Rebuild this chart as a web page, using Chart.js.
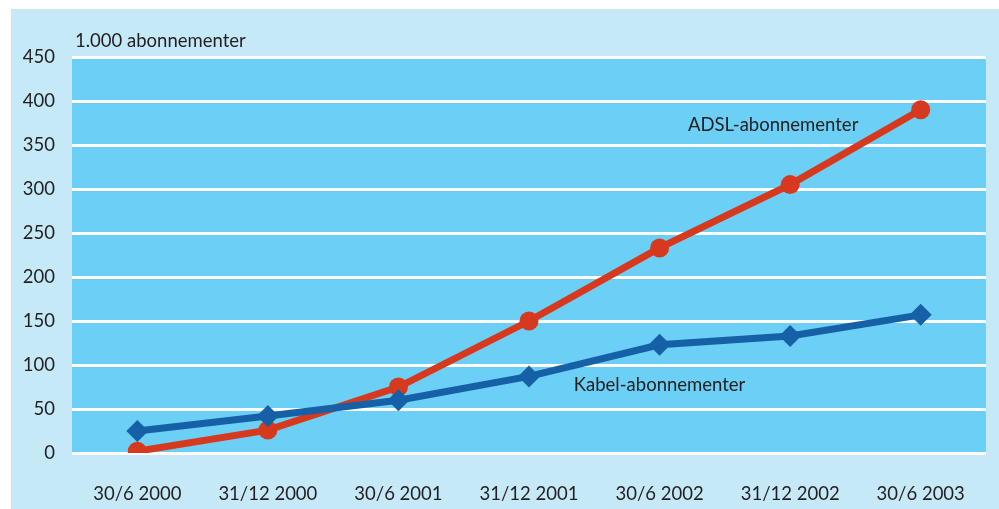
<!DOCTYPE html>
<html>
<head>
<meta charset="utf-8">
<script src="https://cdn.jsdelivr.net/npm/chart.js@4/dist/chart.umd.min.js"></script>
<style>
html,body{margin:0;padding:0;background:#fff}
#wrap{width:999px;height:509px}
</style>
</head>
<body>
<div id="wrap"><canvas id="c"></canvas></div>
<script>
// DATA

const dates=["30/6 2000","31/12 2000","30/6 2001","31/12 2001","30/6 2002","31/12 2002","30/6 2003"]

const adsl=[2,26,75,150,233,305,390]
const kabel=[25,42,60,87,123,133,157]

const yTicks=[0,50,100,150,200,250,300,350,400,450]

const unitLabel="1.000 abonnementer"
const adslLabel="ADSL-abonnementer"
const kabelLabel="Kabel-abonnementer"

const FONT="Lato"
const TXT="#231f20"


// BACKGROUND + TEXTS

const deco={

id:"deco",

beforeDraw(chart){

const {ctx,chartArea:a}=chart

ctx.save()
ctx.fillStyle="#c6e9f8"
ctx.fillRect(11,9,chart.width-11,chart.height-9)
ctx.fillStyle="#6ccff5"
ctx.fillRect(a.left,a.top,a.right-a.left,a.bottom-a.top)
ctx.restore()

},

afterDraw(chart){

const {ctx,chartArea:a,scales}=chart
const x=scales.x,y=scales.y

ctx.save()
ctx.fillStyle=TXT
ctx.font="18.5px "+FONT
ctx.textBaseline="middle"

ctx.textAlign="left"
ctx.fillText(unitLabel,a.left+3,a.top-16)

ctx.textAlign="center"
ctx.fillText(adslLabel,x.getPixelForValue(4.87),y.getPixelForValue(373))
ctx.fillText(kabelLabel,x.getPixelForValue(4.0),y.getPixelForValue(77))

ctx.restore()

}

}


// CHART

new Chart(document.getElementById("c"),{

type:"line",

data:{
labels:dates,
datasets:[
{
label:"Kabel",
data:kabel,
borderColor:"#1560a6",
backgroundColor:"#1560a6",
borderWidth:7,
pointStyle:"rectRot",
pointRadius:11,
pointHoverRadius:11,
pointBorderWidth:0
},
{
label:"ADSL",
data:adsl,
borderColor:"#d7391e",
backgroundColor:"#d7391e",
borderWidth:7,
pointStyle:"circle",
pointRadius:9.5,
pointHoverRadius:9.5,
pointBorderWidth:0
}
]
},

options:{
responsive:true,
maintainAspectRatio:false,
animation:false,
layout:{padding:{top:57,right:13,left:0,bottom:0}},
plugins:{legend:{display:false},tooltip:{enabled:false}},
scales:{
x:{
offset:true,
grid:{display:false},
border:{display:false},
ticks:{color:TXT,font:{family:FONT,size:18.5},padding:22,maxRotation:0},
afterFit(s){s.height=56}
},
y:{
min:0,
max:450,
afterBuildTicks(s){s.ticks=yTicks.map(v=>({value:v}))},
grid:{color:"#ffffff",lineWidth:3,drawTicks:false},
border:{display:false},
ticks:{color:TXT,font:{family:FONT,size:18.5},padding:17},
afterFit(s){s.width=72}
}
}
},

plugins:[deco]

})
</script>
</body>
</html>
